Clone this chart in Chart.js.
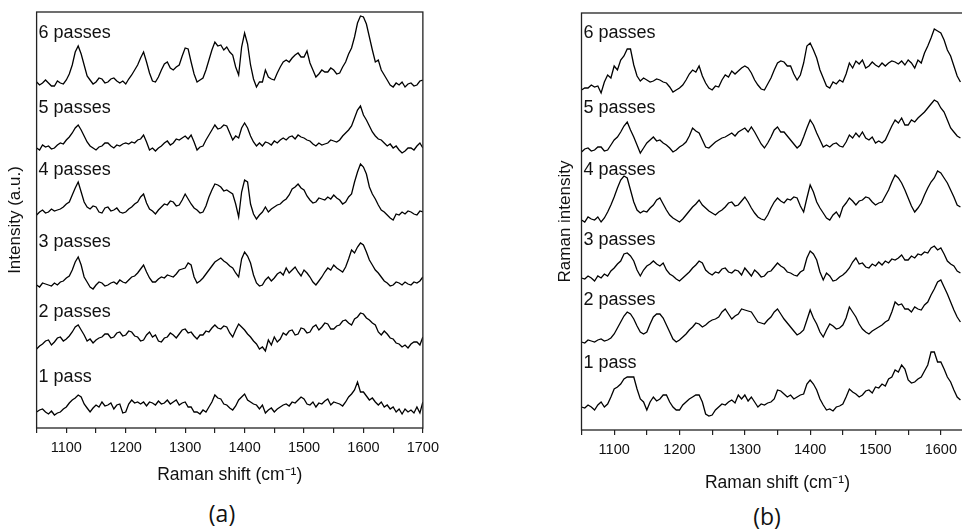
<!DOCTYPE html>
<html>
<head>
<meta charset="utf-8">
<script src="https://cdn.jsdelivr.net/npm/chart.js@4.4.1/dist/chart.umd.min.js"></script>
<style>
  html, body { margin: 0; padding: 0; background: #fff; overflow: hidden; width: 962px; height: 530px; }
  .panel { position: absolute; }
  .tag { position: absolute; font-family: "Open Sans", sans-serif; font-size: 23px; color: #111; transform: translate(-50%, -50%); }
</style>
</head>
<body>
<div class="panel" style="left:0;top:0;width:445px;height:486px"><canvas id="chartA"></canvas></div>
<div class="panel" style="left:545px;top:0;width:440px;height:494px"><canvas id="chartB"></canvas></div>
<div class="tag" style="left:222px;top:513px">(a)</div>
<div class="tag" style="left:767px;top:516px">(b)</div>
<script>
// Raman shift grid (cm-1), one row = 50 cm-1
const shiftA = [
  1050,1055,1060,1065,1070,1075,1080,1085,1090,1095,
  1100,1105,1110,1115,1120,1125,1130,1135,1140,1145,
  1150,1155,1160,1165,1170,1175,1180,1185,1190,1195,
  1200,1205,1210,1215,1220,1225,1230,1235,1240,1245,
  1250,1255,1260,1265,1270,1275,1280,1285,1290,1295,
  1300,1305,1310,1315,1320,1325,1330,1335,1340,1345,
  1350,1355,1360,1365,1370,1375,1380,1385,1390,1395,
  1400,1405,1410,1415,1420,1425,1430,1435,1440,1445,
  1450,1455,1460,1465,1470,1475,1480,1485,1490,1495,
  1500,1505,1510,1515,1520,1525,1530,1535,1540,1545,
  1550,1555,1560,1565,1570,1575,1580,1585,1590,1595,
  1600,1605,1610,1615,1620,1625,1630,1635,1640,1645,
  1650,1655,1660,1665,1670,1675,1680,1685,1690,1695,
  1700];
const shiftB = shiftA.slice(0, 117); // panel (b) is cut at 1630

const passLabels = ['1 pass', '2 passes', '3 passes', '4 passes', '5 passes', '6 passes'];

// panel (a): spectra relative to their own baseline, plus stacking offsets
const offsetsA = [16, 81, 143, 216, 280, 346];
const labelPosA = [51, 116, 186, 258, 320, 395];
const a1 = [
  0,2,3,0,-2,1,-3,-1,0,3,  5,9,12,14,17,15,8,4,0,4,  7,5,10,6,7,9,3,7,8,-1,
  0,8,12,9,10,8,10,6,10,9,  7,11,8,9,12,8,10,12,7,9,  10,5,5,0,0,-2,2,0,5,10,
  17,14,13,8,7,4,2,6,12,15,  18,12,10,8,7,3,7,-1,2,4,  0,3,5,7,8,6,10,9,12,15,
  13,8,7,10,5,9,8,11,13,7,  10,9,8,6,10,15,18,22,30,20,  20,16,12,14,10,7,10,5,7,3,
  5,0,3,-2,3,0,2,-1,5,-1,  10];
const a2 = [
  -2,1,3,6,7,2,5,9,10,6,  8,11,15,20,22,17,12,6,8,4,  7,9,10,13,13,9,10,14,15,11,
  12,16,15,11,10,6,7,12,15,10,  12,6,5,9,10,14,12,9,13,17,  18,14,15,11,8,12,12,16,15,19,
  22,19,18,21,20,14,10,17,23,20,  17,13,10,6,3,-2,0,-4,7,2,  10,5,8,14,12,16,17,12,13,19,
  18,14,15,20,22,17,20,24,23,18,  18,21,22,26,27,24,22,28,30,34,  33,29,27,24,22,15,12,16,13,9,
  8,4,3,0,2,-1,3,5,5,2,  10];
const a3 = [
  0,-2,2,1,0,-1,2,0,3,4,  7,9,15,23,28,20,8,3,-2,-4,  0,3,2,-1,0,2,3,1,5,3,
  2,5,8,9,12,16,20,13,7,3,  3,6,8,7,10,9,8,11,15,16,  17,22,20,8,2,4,7,11,15,19,
  23,25,27,24,22,19,17,12,8,26,  33,29,22,10,2,-1,0,5,8,4,  7,11,13,10,17,12,15,18,13,9,
  15,12,8,3,0,4,8,13,17,15,  20,17,15,13,18,26,35,32,38,42,  40,33,25,20,15,12,8,4,2,-1,
  0,3,2,0,3,1,0,3,2,4,  8];
const a4 = [
  -3,0,2,-1,0,3,1,2,3,5,  8,10,17,24,30,20,10,5,3,6,  5,0,-1,4,5,1,2,4,0,-1,
  0,3,5,8,10,15,18,9,3,1,  -2,2,5,8,7,11,10,6,7,12,  18,13,8,4,2,-1,0,6,15,22,
  28,27,25,21,22,20,18,8,-5,20,  32,30,8,-2,-7,-3,0,5,0,3,  5,7,8,11,13,17,23,25,28,24,
  22,16,12,9,10,14,13,12,15,13,  17,14,12,8,10,15,18,30,40,48,  45,38,25,18,13,7,2,0,-3,-6,
  -8,-2,-3,0,-2,1,0,-2,-3,1,  0];
const a5 = [
  0,-2,3,1,2,-1,0,3,5,4,  8,11,15,20,23,18,12,6,2,0,  -2,1,2,5,5,2,0,3,2,4,
  5,4,6,5,8,9,13,6,-2,0,  -3,0,2,5,7,3,5,9,8,10,  12,9,13,6,-2,1,2,8,13,18,
  23,19,20,23,22,15,8,12,10,20,  25,20,12,6,2,5,2,6,5,3,  7,5,8,10,8,11,12,9,13,11,
  10,8,7,4,2,5,3,4,5,8,  7,6,8,12,15,18,22,30,38,42,  33,28,22,16,12,9,8,5,2,4,
  0,2,-2,-5,-3,0,0,-2,2,5,  0];
const a6 = [
  0,-3,-1,2,-1,-4,-4,1,-1,-2,  2,8,17,30,36,28,17,6,2,-2,  0,4,3,-1,0,3,4,1,-1,1,
  -2,3,7,12,17,24,30,20,9,1,  0,5,12,18,20,14,12,15,17,26,  34,33,20,8,0,2,4,12,22,32,
  40,36,37,32,35,30,27,15,7,35,  49,38,17,3,-5,0,0,12,5,3,  2,9,15,20,22,20,24,27,29,25,
  25,31,19,12,5,8,12,10,10,14,  12,8,9,15,20,28,34,45,59,66,  65,58,45,32,20,22,12,7,2,-3,
  -5,-1,-3,0,-5,-2,-1,-4,-3,1,  2];

// panel (b)
const offsetsB = [23, 88, 152, 210, 280, 342];
const labelPosB = [67, 130, 190, 260, 322, 397];
const b1 = [
  0,-1,2,0,-3,2,5,0,3,10,  18,20,23,28,30,30,30,18,8,5,  -3,5,10,6,8,12,12,5,0,-3,
  -3,2,5,8,10,12,12,5,-7,-9,  -8,-3,0,3,2,5,7,4,12,8,  12,6,10,5,0,3,2,4,5,8,
  17,16,13,10,12,8,10,12,13,23,  27,23,17,8,2,-3,-2,-4,0,1,  3,10,18,15,13,10,12,16,17,14,
  20,19,23,21,28,30,37,35,42,38,  27,24,25,28,30,36,42,55,55,45,  45,38,30,25,17,10,7];
const b2 = [
  0,-1,2,1,0,2,3,1,2,4,  8,14,20,26,30,28,23,16,10,8,  10,18,25,28,28,24,17,10,3,0,
  2,5,8,12,15,19,18,15,17,20,  22,23,25,30,33,28,23,26,28,33,  32,31,30,25,20,19,18,22,25,30,
  33,28,23,19,15,11,7,9,12,22,  32,24,18,10,5,12,18,16,13,14,  17,24,35,30,25,18,13,10,8,11,
  13,15,17,20,22,30,40,37,38,33,  33,30,35,33,32,37,40,47,53,60,  62,55,48,40,32,25,20];
const b3 = [
  0,-1,2,0,-3,2,0,4,2,7,  10,14,17,24,25,22,17,8,2,8,  12,14,17,14,12,15,8,4,2,-1,
  -3,0,3,6,10,13,17,15,8,5,  3,6,5,9,10,6,5,8,7,3,  10,6,2,8,5,1,2,6,7,11,
  15,12,10,6,5,3,2,6,8,20,  27,24,18,6,-2,5,2,-3,-2,1,  3,6,10,16,20,14,15,11,10,14,
  12,16,13,17,15,19,18,20,23,18,  18,22,20,24,23,26,25,30,32,28,  30,24,17,14,12,7,5];
const b4 = [
  0,-2,3,1,0,3,-2,2,8,15,  23,32,40,44,42,30,18,10,7,9,  8,12,15,20,22,16,10,5,2,0,
  -2,1,5,9,13,16,20,15,12,9,  7,5,8,10,13,17,18,14,15,19,  23,18,12,7,3,1,0,5,12,18,
  22,19,17,21,20,23,22,14,8,22,  35,28,18,12,7,2,0,5,8,3,  13,17,22,19,15,19,20,23,22,18,
  15,17,18,24,30,38,45,42,37,30,  22,14,8,12,17,25,32,38,42,49,  47,42,37,30,23,15,13];
const b5 = [
  -2,1,2,-1,0,3,3,-1,0,5,  10,13,18,24,28,20,13,5,-3,2,  7,10,13,9,10,7,5,2,-2,0,
  3,5,8,14,22,19,17,10,3,2,  5,8,10,12,13,15,17,14,18,20,  22,18,23,18,12,6,2,7,13,20,
  23,18,18,14,10,6,2,5,13,22,  30,25,17,10,3,5,3,6,7,4,  3,8,15,12,17,13,18,12,10,13,
  7,9,7,10,17,24,30,27,32,25,  25,30,28,32,35,38,42,46,50,48,  42,38,30,22,18,14,12];
const b6 = [
  -2,0,0,3,1,2,-5,6,13,10,  22,18,28,32,39,39,23,12,7,10,  8,6,7,9,8,6,5,1,-4,-2,
  0,3,8,14,18,16,22,12,5,0,  -2,2,1,8,13,11,17,14,17,20,  22,20,15,8,3,-1,-2,4,10,18,
  25,27,26,22,22,14,8,13,25,42,  45,38,30,18,10,2,0,6,4,8,  6,14,25,20,27,24,28,20,22,26,
  23,21,25,22,25,27,26,24,27,23,  28,25,20,28,25,35,42,50,59,57,  55,48,38,32,22,12,6];

Chart.defaults.font.family = '"Liberation Sans", Arial, sans-serif';
Chart.defaults.color = '#111';

// Function to build stacked line datasets
function buildDatasets(shifts, spectra, offsets) {
    return spectra.map((spec, i) => ({
        label: passLabels[i],
        data: spec.map((v, j) => ({ x: shifts[j], y: offsets[i] + v })),
        borderColor: '#000',
        borderWidth: 1.3,
        pointRadius: 0,
        tension: 0,
        fill: false
    }));
}

// plugin for the frame and the "n passes" labels
function panelPlugin(labelPos) {
    return {
        id: 'panelDeco',
        afterDatasetsDraw(chart) {
            const { ctx, chartArea, scales } = chart;
            ctx.save();
            ctx.strokeStyle = '#222';
            ctx.lineWidth = 1.3;
            ctx.strokeRect(chartArea.left, chartArea.top, chartArea.right - chartArea.left, chartArea.bottom - chartArea.top);
            ctx.fillStyle = '#111';
            ctx.font = '18px "Liberation Sans", Arial, sans-serif';
            ctx.textBaseline = 'middle';
            const x0 = scales.x.getPixelForValue(scales.x.min) + 2;
            passLabels.forEach((t, i) => {
                ctx.fillText(t, x0, scales.y.getPixelForValue(labelPos[i]));
            });
            ctx.restore();
        }
    };
}

function renderPanel(id, shifts, spectra, offsets, labelPos, opts) {
    const ctx = document.getElementById(id).getContext('2d');
    new Chart(ctx, {
        type: 'line',
        data: { datasets: buildDatasets(shifts, spectra, offsets) },
        options: {
            responsive: true,
            maintainAspectRatio: false,
            animation: false,
            layout: { padding: { top: opts.top, right: opts.right, left: 0, bottom: 0 } },
            plugins: { legend: { display: false }, tooltip: { enabled: false } },
            scales: {
                x: {
                    type: 'linear',
                    min: 1050,
                    max: opts.xmax,
                    afterFit: s => { s.height = opts.xHeight; },
                    border: { display: false },
                    grid: { drawOnChartArea: false, drawTicks: true, tickLength: 5, color: '#222', lineWidth: 1.2 },
                    ticks: {
                        stepSize: 50,
                        padding: 6,
                        maxRotation: 0,
                        autoSkip: false,
                        font: { size: 14.5 },
                        callback: v => (v % 100 === 0 ? v : '')
                    },
                    title: { display: true, text: 'Raman shift (cm\u207B\u00B9)', font: { size: 17.5 }, padding: { top: 0, bottom: 0 } }
                },
                y: {
                    min: 0,
                    max: opts.ymax,
                    afterFit: s => { s.width = opts.yWidth; },
                    border: { display: false },
                    grid: { display: false },
                    ticks: { display: false },
                    title: { display: true, text: opts.yTitle, font: { size: 17 }, padding: { top: opts.yTitlePad, bottom: 0 } }
                }
            }
        },
        plugins: [panelPlugin(labelPos)]
    });
}

renderPanel('chartA', shiftA, [a1, a2, a3, a4, a5, a6], offsetsA, labelPosA, {
    top: 12, right: 17, xmax: 1700, ymax: 416, xHeight: 58, yWidth: 36.6, yTitle: 'Intensity (a.u.)', yTitlePad: 5
});
renderPanel('chartB', shiftB, [b1, b2, b3, b4, b5, b6], offsetsB, labelPosB, {
    top: 13, right: 11.5, xmax: 1650, ymax: 417, xHeight: 64, yWidth: 36.5, yTitle: 'Raman intensity', yTitlePad: 10
});
</script>
</body>
</html>
